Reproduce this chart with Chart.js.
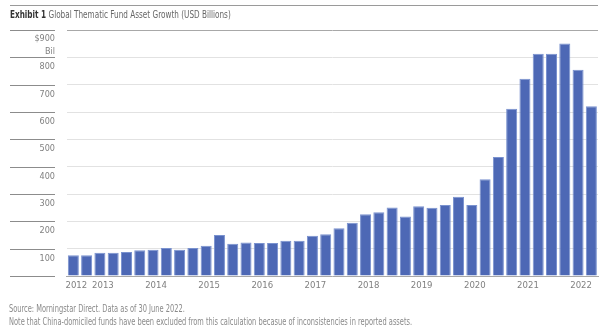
<!DOCTYPE html>
<html>
<head>
<meta charset="utf-8">
<script src="https://cdn.jsdelivr.net/npm/chart.js@4/dist/chart.umd.min.js"></script>
<style>
  body { margin: 0; background: #fff; }
  #wrap { position: relative; width: 602px; height: 333px; font-family: 'Liberation Sans Narrow', 'DejaVu Sans Condensed', sans-serif; }
  #rule { position: absolute; left: 10px; right: 4px; top: 5px; border-top: 1px solid #9a9a9a; }
  #title { position: absolute; left: 10px; top: 9px; font-size: 10px; color: #666; white-space: nowrap; transform: scaleX(0.81); transform-origin: 0 0; }
  #title b { color: #333; }
  #foot { position: absolute; left: 9px; top: 302px; font-size: 10px; line-height: 13px; color: #8a8a8a; white-space: nowrap; transform: scaleX(0.74); transform-origin: 0 0; }
  canvas { position: absolute; left: 0; top: 0; }
</style>
</head>
<body>
<div id="wrap">
  <canvas id="assetChart" width="602" height="333"></canvas>
  <div id="rule"></div>
  <div id="title"><b>Exhibit 1</b> Global Thematic Fund Asset Growth (USD Billions)</div>
  <div id="foot">Source: Morningstar Direct. Data as of 30 June 2022.<br>Note that China-domiciled funds have been excluded from this calculation becasue of inconsistencies in reported assets.</div>
</div>
<script>
// quarters 2012 Q3 .. 2022 Q2
const quarters = [
  '2012Q3','2012Q4',
  '2013Q1','2013Q2','2013Q3','2013Q4',
  '2014Q1','2014Q2','2014Q3','2014Q4',
  '2015Q1','2015Q2','2015Q3','2015Q4',
  '2016Q1','2016Q2','2016Q3','2016Q4',
  '2017Q1','2017Q2','2017Q3','2017Q4',
  '2018Q1','2018Q2','2018Q3','2018Q4',
  '2019Q1','2019Q2','2019Q3','2019Q4',
  '2020Q1','2020Q2','2020Q3','2020Q4',
  '2021Q1','2021Q2','2021Q3','2021Q4',
  '2022Q1','2022Q2'
];

// year shown under the bar, blank elsewhere
const yearLabels = [
  '2012','',
  '2013','','','',
  '2014','','','',
  '2015','','','',
  '2016','','','',
  '2017','','','',
  '2018','','','',
  '2019','','','',
  '2020','','','',
  '2021','','','',
  '2022',''
];

// assets, USD billions
const assets = [
  76, 76,
  85, 85, 88, 94,
  96, 102, 96, 102,
  111, 150, 118, 123,
  121, 121, 129, 129,
  147, 153, 175, 195,
  226, 233, 251, 218,
  255, 250, 260, 290,
  260, 354, 435, 612,
  722, 813, 813, 851,
  755, 621
];

const yTicks = [0, 100, 200, 300, 400, 500, 600, 700, 800, 900];
const yTickText = ['', '100', '200', '300', '400', '500', '600', '700', '800', ['$900', 'Bil']];

const fontFamily = "'Liberation Sans Narrow', 'DejaVu Sans Condensed', sans-serif";

// left-hand label column: short dark rules and labels sitting under each gridline
const leftLabels = {
  id: 'leftLabels',
  afterDraw(chart) {
    const ctx = chart.ctx;
    const y = chart.scales.y;
    ctx.save();
    ctx.font = '9px ' + fontFamily;
    ctx.fillStyle = '#808080';
    ctx.textAlign = 'right';
    ctx.textBaseline = 'middle';
    yTicks.forEach((v, i) => {
      const py = Math.round(y.getPixelForValue(v)) + 0.5;
      ctx.strokeStyle = '#8c8c8c';
      ctx.lineWidth = 1;
      ctx.beginPath();
      ctx.moveTo(10, py);
      ctx.lineTo(55, py);
      ctx.stroke();
      const txt = yTickText[i];
      if (Array.isArray(txt)) {
        ctx.fillText(txt[0], 55, py + 8);
        ctx.fillText(txt[1], 55, py + 21);
      } else if (txt) {
        ctx.fillText(txt, 55, py + 9);
      }
    });
    ctx.restore();
  }
};

new Chart(document.getElementById('assetChart'), {
  type: 'bar',
  data: {
    labels: quarters,
    datasets: [{
      data: assets,
      backgroundColor: '#4d68b5',
      borderColor: '#7a92cf',
      borderWidth: 1,
      barPercentage: 0.83,
      categoryPercentage: 1.0
    }]
  },
  options: {
    responsive: false,
    animation: false,
    layout: { padding: { top: 30, right: 4, bottom: 37, left: 0 } },
    plugins: {
      legend: { display: false },
      tooltip: { enabled: false }
    },
    scales: {
      x: {
        grid: { display: false, drawTicks: false },
        border: { display: true, color: '#a8a8a8' },
        ticks: {
          autoSkip: false,
          maxRotation: 0,
          padding: 4,
          labelOffset: 3,
          color: '#808080',
          font: { family: fontFamily, size: 9.5 },
          callback: (val, idx) => yearLabels[idx]
        },
        afterFit: s => { s.height = 20; }
      },
      y: {
        min: 0,
        max: 900,
        ticks: { display: false, stepSize: 100 },
        grid: {
          drawTicks: false,
          color: c => (c.tick && c.tick.value === 900) ? '#a8a8a8' : '#e2e2e2'
        },
        border: { display: false },
        afterFit: s => { s.width = 66.7; }
      }
    }
  },
  plugins: [leftLabels]
});
</script>
</body>
</html>
